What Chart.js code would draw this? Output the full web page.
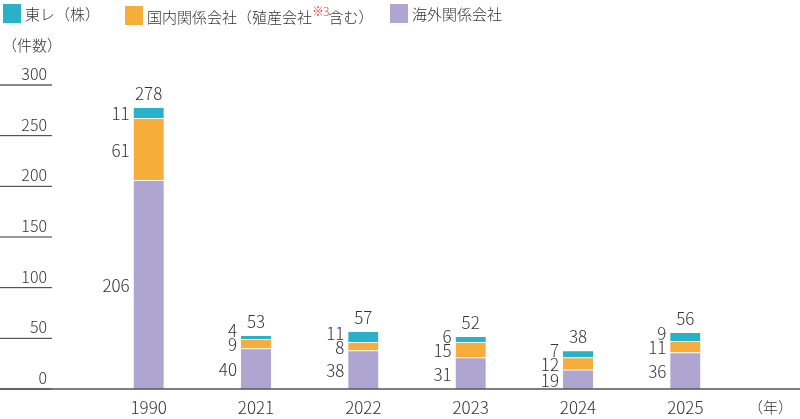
<!DOCTYPE html>
<html lang="ja">
<head>
<meta charset="UTF-8">
<title>件数推移</title>
<style>
  html, body { margin: 0; padding: 0; background: #fff; }
  .wrap { position: relative; width: 800px; height: 419px; }
  .legend { position: absolute; top: 0; left: 0; width: 800px; height: 26px;
            font-family: "Noto Sans CJK JP", sans-serif; font-weight: 300; font-size: 15px; color: #333; }
  .legend .item { position: absolute; top: 3px; display: flex; align-items: center; white-space: nowrap; }
  .legend .box { width: 18px; height: 19px; margin-right: 4px; }
  .legend sup { color: #e8333c; font-size: 12px; position: relative; top: -1px; letter-spacing: -1px; }
</style>
</head>
<body>
<div class="wrap">
  <canvas id="chart" width="800" height="419"></canvas>
  <div class="legend" id="legend"></div>
</div>

<script src="https://cdn.jsdelivr.net/npm/chart.js"></script>
<script>
// data
const years = ['1990', '2021', '2022', '2023', '2024', '2025'];
const overseas = [206, 40, 38, 31, 19, 36];   // 海外関係会社
const domestic = [61, 9, 8, 15, 12, 11];       // 国内関係会社（殖産会社※3含む）
const toray = [11, 4, 11, 6, 7, 9];            // 東レ（株）
const totals = [278, 53, 57, 52, 38, 56];
const yTicks = [0, 50, 100, 150, 200, 250, 300];

const FONT = '"Noto Sans CJK JP", sans-serif';
const TEXT = '#333';

const colors = { overseas: '#aea6d0', domestic: '#f6ad3c', toray: '#29b1c7' };

// legend (top to bottom order of stack)
const legendItems = [
    { text: '東レ（株）', color: colors.toray, left: 3 },
    { text: '国内関係会社（殖産会社<sup>※3</sup>含む）', color: colors.domestic, left: 125 },
    { text: '海外関係会社', color: colors.overseas, left: 390 }
];
const legendEl = document.getElementById('legend');
legendItems.forEach(it => {
    const d = document.createElement('div');
    d.className = 'item';
    d.style.left = it.left + 'px';
    d.innerHTML = '<span class="box" style="background:' + it.color + '"></span><span>' + it.text + '</span>';
    legendEl.appendChild(d);
});

// axes, baseline and value labels
const decorPlugin = {
    id: 'decor',
    afterDatasetsDraw(chart) {
        const ctx = chart.ctx;
        const y = chart.scales.y;
        const x = chart.scales.x;
        ctx.save();

        // y tick segments and labels
        ctx.font = '300 16px ' + FONT;
        ctx.textAlign = 'right';
        ctx.textBaseline = 'middle';
        yTicks.forEach(v => {
            const py = y.getPixelForValue(v);
            ctx.beginPath();
            if (v === 300) { ctx.strokeStyle = '#8a8a8a'; ctx.lineWidth = 2; }
            else { ctx.strokeStyle = '#333'; ctx.lineWidth = 1; }
            ctx.moveTo(0, py);
            ctx.lineTo(52, py);
            ctx.stroke();
            ctx.fillStyle = TEXT;
            ctx.fillText(String(v), 47, py - 11);
        });

        // baseline
        const by = y.getPixelForValue(0);
        ctx.beginPath();
        ctx.strokeStyle = '#555';
        ctx.lineWidth = 1.5;
        ctx.moveTo(0, by);
        ctx.lineTo(chart.width, by);
        ctx.stroke();

        // units
        ctx.font = '300 15px ' + FONT;
        ctx.textAlign = 'left';
        ctx.fillStyle = TEXT;
        ctx.fillText('（件数）', 2, 45);
        ctx.fillText('（年）', 748, 407);

        // x labels
        ctx.font = '300 17px ' + FONT;
        ctx.textAlign = 'center';
        years.forEach((yr, i) => {
            ctx.fillText(yr, x.getPixelForValue(i), 408);
        });

        // segment labels
        ctx.font = '300 17px ' + FONT;
        years.forEach((yr, i) => {
            let prev = Infinity;
            let left = 0, top = Infinity, cx = 0;
            chart.data.datasets.forEach((ds, di) => {
                const el = chart.getDatasetMeta(di).data[i];
                const p = el.getProps(['x', 'y', 'base', 'width'], true);
                let cy = (p.y + p.base) / 2 + 1;
                cy = Math.min(cy, prev - 14);
                prev = cy;
                left = p.x - p.width / 2;
                cx = p.x;
                top = Math.min(top, p.y);
                ctx.textAlign = 'right';
                ctx.fillText(String(ds.data[i]), left - 4, cy);
            });
            ctx.textAlign = 'center';
            ctx.fillText(String(totals[i]), cx, top - 14);
        });

        ctx.restore();
    }
};

new Chart(document.getElementById('chart'), {
    type: 'bar',
    data: {
        labels: years,
        datasets: [
            { label: '海外関係会社', data: overseas, backgroundColor: colors.overseas },
            { label: '国内関係会社（殖産会社※3含む）', data: domestic, backgroundColor: colors.domestic },
            { label: '東レ（株）', data: toray, backgroundColor: colors.toray }
        ]
    },
    options: {
        responsive: false,
        animation: false,
        layout: { padding: { top: 85, bottom: 30, left: 95, right: 61 } },
        datasets: {
            bar: {
                barThickness: 30,
                borderColor: '#fff',
                borderWidth: { top: 1, right: 0, bottom: 0, left: 0 },
                borderSkipped: false
            }
        },
        plugins: {
            legend: { display: false },
            tooltip: { enabled: false }
        },
        scales: {
            x: { stacked: true, display: false },
            y: { stacked: true, display: false, min: 0, max: 300 }
        }
    },
    plugins: [decorPlugin]
});
</script>
</body>
</html>
